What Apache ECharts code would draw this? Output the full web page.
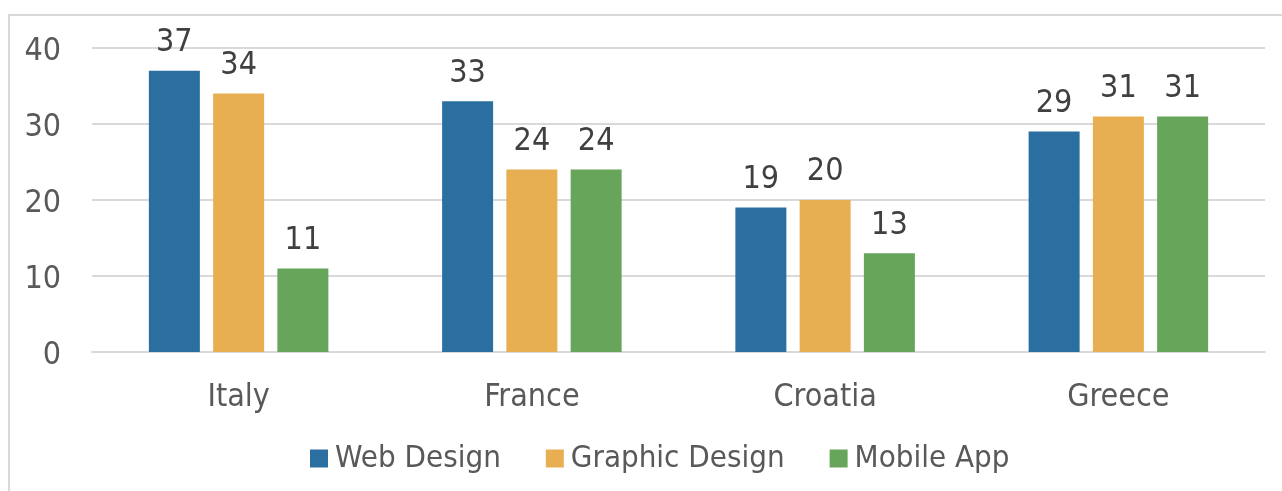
<!DOCTYPE html>
<html>
<head>
<meta charset="utf-8">
<script src="https://cdn.jsdelivr.net/npm/echarts@6/dist/echarts.min.js"></script>
<style>
html,body{margin:0;padding:0;background:#fff;}
#c{width:1282px;height:491px;}
</style>
</head>
<body>
<div id="c"></div>
<script>
const categories = ['Italy', 'France', 'Croatia', 'Greece'];
const webDesign = [37, 33, 19, 29];
const graphicDesign = [34, 24, 20, 31];
const mobileApp = [11, 24, 13, 31];
const seriesNames = ['Web Design', 'Graphic Design', 'Mobile App'];
const colors = ['#2A6F9F', '#E7AE52', '#67A55A'];
const yTicks = { min: 0, max: 40, interval: 10 };

const FONT = '"DejaVu Sans Condensed", "DejaVu Sans", Tahoma, sans-serif';
const chart = echarts.init(document.getElementById('c'), null, { renderer: 'canvas' });

const values = [webDesign, graphicDesign, mobileApp];
const series = seriesNames.map((name, i) => ({
  name: name,
  type: 'bar',
  data: values[i],
  barWidth: 51,
  barGap: '26%',
  itemStyle: { color: colors[i] },
  label: {
    show: true,
    position: 'top',
    distance: 12,
    color: '#404040',
    fontFamily: FONT,
    fontSize: 32
  }
}));

chart.setOption({
  animation: false,
  backgroundColor: '#fff',
  graphic: [{
    type: 'rect',
    shape: { x: 9, y: 15, width: 1300, height: 500 },
    style: { fill: 'none', stroke: '#d9d9d9', lineWidth: 2 },
    silent: true
  }],
  grid: { left: 92, right: 17, top: 48, bottom: 139, containLabel: false },
  legend: {
    data: seriesNames,
    bottom: 12,
    left: 305,
    itemWidth: 18,
    itemHeight: 18,
    itemGap: 45,
    icon: 'rect',
    textStyle: { color: '#595959', fontFamily: FONT, fontSize: 31, padding: [0, 0, 0, 2] }
  },
  xAxis: {
    type: 'category',
    data: categories,
    axisLine: { show: true, lineStyle: { color: '#d9d9d9', width: 2 } },
    axisTick: { show: false },
    axisLabel: { color: '#595959', fontFamily: FONT, fontSize: 32, margin: 30 }
  },
  yAxis: {
    type: 'value',
    min: yTicks.min,
    max: yTicks.max,
    interval: yTicks.interval,
    axisLine: { show: false },
    axisTick: { show: false },
    splitLine: { lineStyle: { color: '#d9d9d9', width: 2 } },
    axisLabel: {
      margin: 31,
      formatter: '{v|{value}}',
      rich: { v: { color: '#595959', fontFamily: FONT, fontSize: 32, padding: [7, 0, 0, 0] } }
    }
  },
  series: series
});
</script>
</body>
</html>
